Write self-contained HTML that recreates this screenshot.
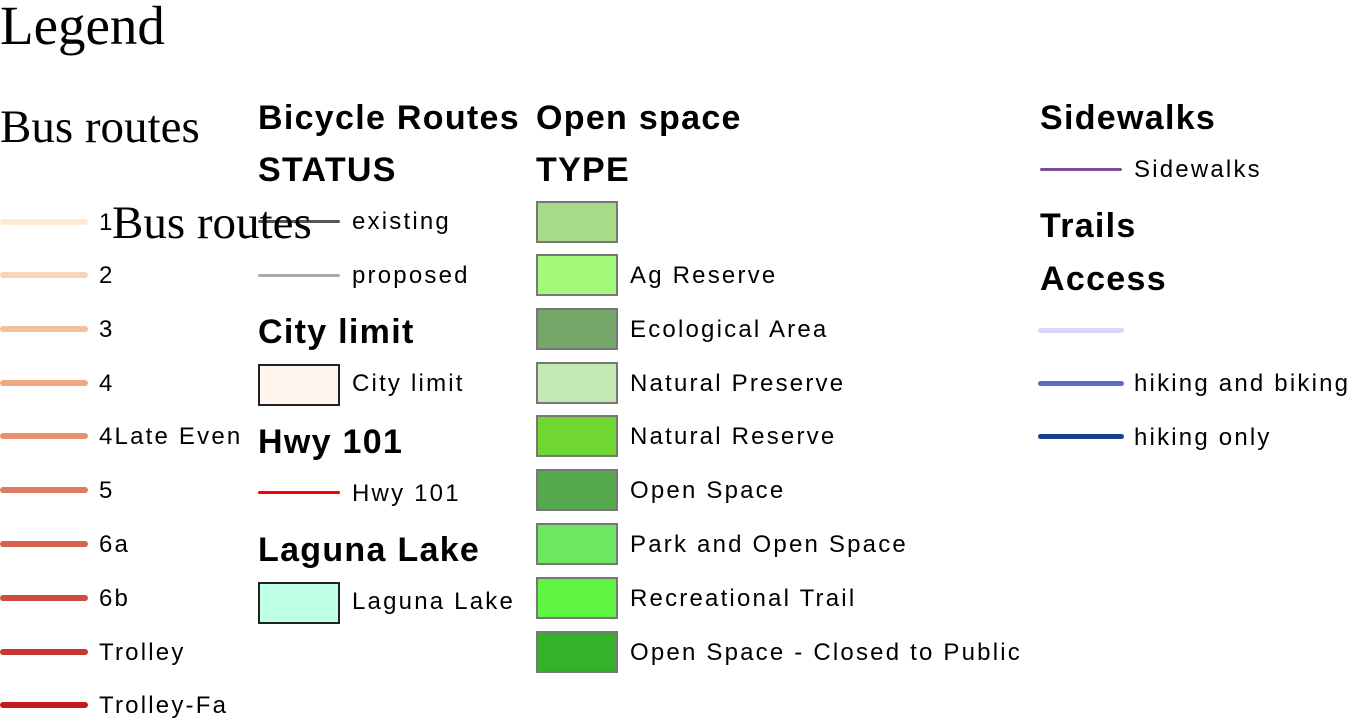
<!DOCTYPE html>
<html><head><meta charset="utf-8"><style>
body{margin:0;width:1348px;height:719px;background:#fff;position:relative;overflow:hidden;font-family:"Liberation Sans",sans-serif;color:#000}
.a{position:absolute;white-space:nowrap}
.serif{font-family:"Liberation Serif",serif}
.h{font-weight:bold;font-size:34px;line-height:1;letter-spacing:1.3px}
.l{font-size:24px;letter-spacing:2.2px;line-height:1}
.ln{position:absolute;height:6px;border-radius:3px}
.bx{position:absolute;width:78px;height:38px;border:2px solid #777}
</style></head><body>
<div class="a serif" style="left:0;top:-6px;font-size:55px">Legend</div>
<div class="a serif" style="left:0;top:100px;font-size:47px">Bus routes</div>
<div class="a h" style="left:258px;top:101px">Bicycle Routes</div>
<div class="a h" style="left:258px;top:153px">STATUS</div>
<div class="a h" style="left:536px;top:101px">Open space</div>
<div class="a h" style="left:536px;top:153px">TYPE</div>
<div class="a h" style="left:1040px;top:101px">Sidewalks</div>
<div class="a h" style="left:1040px;top:209px">Trails</div>
<div class="a h" style="left:1040px;top:262px">Access</div>
<div class="a h" style="left:258px;top:315px">City limit</div>
<div class="a h" style="left:258px;top:425px">Hwy 101</div>
<div class="a h" style="left:258px;top:533px">Laguna Lake</div>
<div id="root"></div>
<script>
const busLabels=["1","2","3","4","4Late Even","5","6a","6b","Trolley","Trolley-Fa"];
const busColors=["#fde9d6","#f8d4b8","#f4bf9c","#efa982","#e8916c","#e07b5e","#d6634f","#cd4b41","#c73530","#c21a1d"];
const openLabels=["","Ag Reserve","Ecological Area","Natural Preserve","Natural Reserve","Open Space","Park and Open Space","Recreational Trail","Open Space - Closed to Public"];
const openColors=["#a6dc88","#a3fa7a","#75a76b","#c4e8b2","#70d630","#55a84c","#6ce860","#5ff542","#33b22a"];
const rowY=[222,275,329,383,436,490,544,598,652,705];
const b=document.body;
function txt(x,y,s,n){const d=document.createElement('div');d.className='a l';d.style.left=x+'px';d.style.top=(y-11)+'px';d.textContent=s;


b.appendChild(d);}
function line(x,y,w,c,n,h){const d=document.createElement('div');d.className='ln';d.style.left=x+'px';d.style.top=(y-(h||6)/2)+'px';d.style.width=w+'px';d.style.height=(h||6)+'px';d.style.background=c;


b.appendChild(d);}
function box(x,y,c,n){const d=document.createElement('div');d.className='bx';d.style.left=x+'px';d.style.top=(y-21)+'px';d.style.background=c;


b.appendChild(d);}
busLabels.forEach((s,i)=>{line(0,rowY[i],88,busColors[i],'bus-route-line');txt(99,rowY[i],s,'bus-route-label');});
openLabels.forEach((s,i)=>{box(536,rowY[i],openColors[i],'open-space-swatch');if(s)txt(630,rowY[i],s,'open-space-label');});
line(258,221,82,'#555','bicycle-existing-line',3);txt(352,221,'existing','bicycle-existing-label');
line(258,275,82,'#aaa','bicycle-proposed-line',3);txt(352,275,'proposed','bicycle-proposed-label');
const cb=document.createElement('div');cb.className='bx';cb.style.cssText='left:258px;top:364px;border-color:#222;background:#fff5ee';


b.appendChild(cb);txt(352,383,'City limit','city-limit-label');
line(258,492,82,'#f00','hwy-101-line',3);txt(352,493,'Hwy 101','hwy-101-label');
const lb=document.createElement('div');lb.className='bx';lb.style.cssText='left:258px;top:582px;border-color:#222;background:#bfffe6';


b.appendChild(lb);txt(352,601,'Laguna Lake','laguna-lake-label');
line(1040,169,82,'#7a4f9a','sidewalks-line',3);txt(1134,169,'Sidewalks','sidewalks-label');
line(1038,330,86,'#d8d8f8','access-blank-line',5);
line(1038,383,86,'#5570cc','hiking-biking-line',5);txt(1134,383,'hiking and biking','hiking-biking-label');
line(1038,436,86,'#1a3e94','hiking-only-line',5);txt(1134,437,'hiking only','hiking-only-label');
</script>
<div class="a serif" style="left:112px;top:196px;font-size:47px">Bus routes</div>
</body></html>
